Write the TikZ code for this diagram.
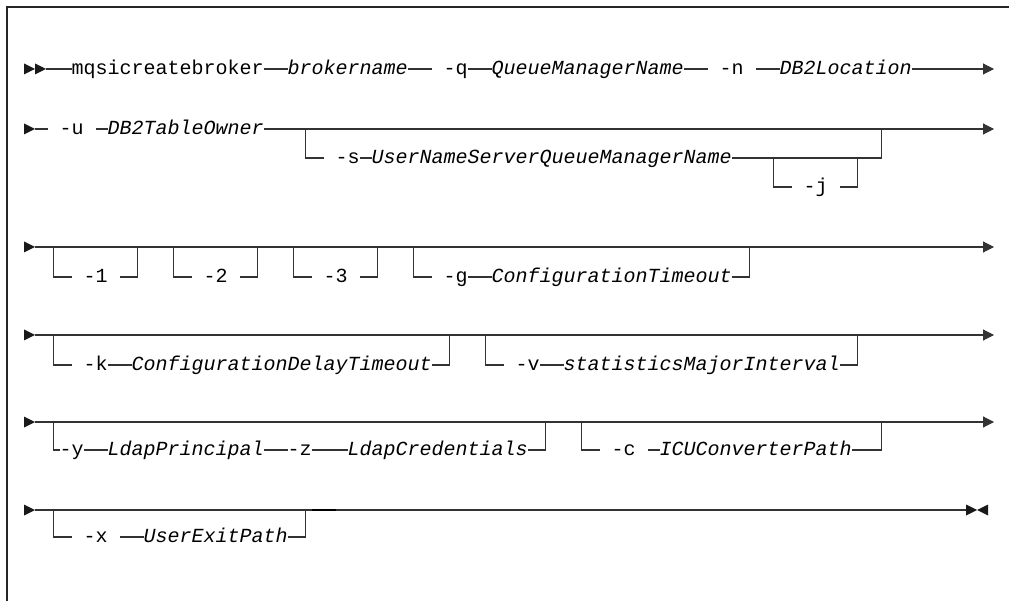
\documentclass[tikz,border=0pt]{standalone}
\usepackage{fontspec}
\setmonofont{Liberation Mono}
\usetikzlibrary{arrows.meta}

\begin{document}
\begin{tikzpicture}[x=1pt,y=-1pt,>={Triangle[length=11pt,width=11pt]},
    rail/.style={line width=1.1pt,draw=black!80},
    kw/.style={font=\fontsize{20}{24}\selectfont\ttfamily,inner sep=0pt,
      text height=14pt,text depth=3pt,anchor=west},
    var/.style={kw,font=\fontsize{20}{24}\selectfont\ttfamily\itshape},
    gapin/.style={shorten >=12pt},
    gapout/.style={shorten <=12pt},
    tip/.style={fill=black!90}]
    \useasboundingbox (0,0) rectangle (1009,601);
    % Frame round the syntax diagram.
    \draw[line width=1.4pt,black!85] (7,601) -- (7,7) -- (1009,7);

    % Line starts.
    \foreach \y in {69,129,247,335,422,510}
      \fill[tip] (24,\y) ++(0,-5.5) -- ++(11,5.5) -- ++(-11,5.5) -- cycle;
    \fill[tip] (35,63.5) -- (46,69) -- (35,74.5) -- cycle;

    % First line: command and required parameters.
    \coordinate (r1s) at (46,69);
    \node[kw] (cmd) at (71.5,69) {mqsicreatebroker};
    \node[var] (bname) at (287.5,69) {brokername};
    \node[kw] (qopt) at (443.5,69) {-q};
    \node[var] (qmgr) at (491.5,69) {QueueManagerName};
    \node[kw] (nopt) at (719.5,69) {-n};
    \node[var] (dbloc) at (779.5,69) {DB2Location};
    \coordinate (r1e) at (994,69);
    \draw[rail] (r1s) -- (cmd);
    \draw[rail] (cmd) -- (bname);
    \draw[rail,gapin] (bname) -- (qopt);
    \draw[rail] (qopt) -- (qmgr);
    \draw[rail,gapin] (qmgr) -- (nopt);
    \draw[rail,gapout] (nopt) -- (dbloc);
    \draw[rail,->] (dbloc) -- (r1e);

    % Second line: table owner, optional user name server.
    \coordinate (r2s) at (35,129);
    \node[kw] (uopt) at (59.5,129) {-u};
    \node[var] (owner) at (107.5,129) {DB2TableOwner};
    \coordinate (r2e) at (994,129);
    \draw[rail,gapin] (r2s) -- (uopt);
    \draw[rail,gapout] (uopt) -- (owner);
    \draw[rail,->] (owner) -- (r2e);
    \coordinate (sa) at (305.5,129);
    \coordinate (sd) at (881.5,129);
    \node[kw] (sopt) at (335.5,158) {-s};
    \node[var] (sname) at (371.5,158) {UserNameServerQueueManagerName};
    \draw[rail,gapin] (sa) |- (sopt);
    \draw[rail] (sopt) -- (sname);
    \draw[rail] (sname) -| (sd);
    \coordinate (ja) at (773.5,158);
    \coordinate (jd) at (857.5,158);
    \node[kw] (jopt) at (803.5,187) {-j};
    \draw[rail,gapin] (ja) |- (jopt);
    \draw[rail,gapout] (jopt) -| (jd);

    % Third line: trace switches and configuration timeout.
    \coordinate (r3s) at (35,247);
    \coordinate (r3e) at (994,247);
    \draw[rail,->] (r3s) -- (r3e);
    \foreach \n/\c in {1/53.5,2/173.5,3/293.5} {
      \coordinate (t\n a) at (\c,247);
      \coordinate (t\n d) at (\c+84,247);
      \node[kw] (t\n) at (\c+30,277) {-\n};
      \draw[rail,gapin] (t\n a) |- (t\n);
      \draw[rail,gapout] (t\n) -| (t\n d);
    }
    \coordinate (ga) at (413.5,247);
    \coordinate (gd) at (749.5,247);
    \node[kw] (gopt) at (443.5,277) {-g};
    \node[var] (gname) at (491.5,277) {ConfigurationTimeout};
    \draw[rail,gapin] (ga) |- (gopt);
    \draw[rail] (gopt) -- (gname);
    \draw[rail] (gname) -| (gd);

    % Fourth line.
    \coordinate (r4s) at (35,335);
    \coordinate (r4e) at (994,335);
    \draw[rail,->] (r4s) -- (r4e);
    \coordinate (ka) at (53.5,335);
    \coordinate (kd) at (449.5,335);
    \node[kw] (kopt) at (83.5,365) {-k};
    \node[var] (delay) at (131.5,365) {ConfigurationDelayTimeout};
    \draw[rail,gapin] (ka) |- (kopt);
    \draw[rail] (kopt) -- (delay);
    \draw[rail] (delay) -| (kd);
    \coordinate (va) at (485.5,335);
    \coordinate (vd) at (857.5,335);
    \node[kw] (vopt) at (515.5,365) {-v};
    \node[var] (major) at (563.5,365) {statisticsMajorInterval};
    \draw[rail,gapin] (va) |- (vopt);
    \draw[rail] (vopt) -- (major);
    \draw[rail] (major) -| (vd);

    % Fifth line: LDAP and converter path.
    \coordinate (r5s) at (35,422);
    \coordinate (r5e) at (994,422);
    \draw[rail,->] (r5s) -- (r5e);
    \coordinate (ya) at (53.5,422);
    \coordinate (yd) at (545.5,422);
    \node[kw] (yopt) at (59.5,450) {-y};
    \node[var] (princ) at (107.5,450) {LdapPrincipal};
    \node[kw] (zopt) at (287.5,450) {-z};
    \node[var] (cred) at (347.5,450) {LdapCredentials};
    \draw[rail] (ya) |- (yopt);
    \draw[rail] (yopt) -- (princ);
    \draw[rail] (princ) -- (zopt);
    \draw[rail] (zopt) -- (cred);
    \draw[rail] (cred) -| (yd);
    \coordinate (ca) at (581.5,422);
    \coordinate (cd) at (881.5,422);
    \node[kw] (copt) at (611.5,450) {-c};
    \node[var] (icu) at (659.5,450) {ICUConverterPath};
    \draw[rail,gapin] (ca) |- (copt);
    \draw[rail,gapout] (copt) -- (icu);
    \draw[rail] (icu) -| (cd);

    % Last line: user exit path and end of statement.
    \coordinate (r6s) at (35,510);
    \coordinate (r6e) at (966,510);
    \draw[rail] (r6s) -- (r6e);
    \draw[line width=2pt,black] (311.5,510) -- (335.5,510);
    \coordinate (xa) at (53.5,510);
    \coordinate (xd) at (305.5,510);
    \node[kw] (xopt) at (83.5,537) {-x};
    \node[var] (exitp) at (143.5,537) {UserExitPath};
    \draw[rail,gapin] (xa) |- (xopt);
    \draw[rail,gapout] (xopt) -- (exitp);
    \draw[rail] (exitp) -| (xd);
    \fill[tip] (966,504.5) -- (977,510) -- (966,515.5) -- cycle;
    \fill[tip] (988,504.5) -- (977,510) -- (988,515.5) -- cycle;
  \end{tikzpicture}
\end{document}
